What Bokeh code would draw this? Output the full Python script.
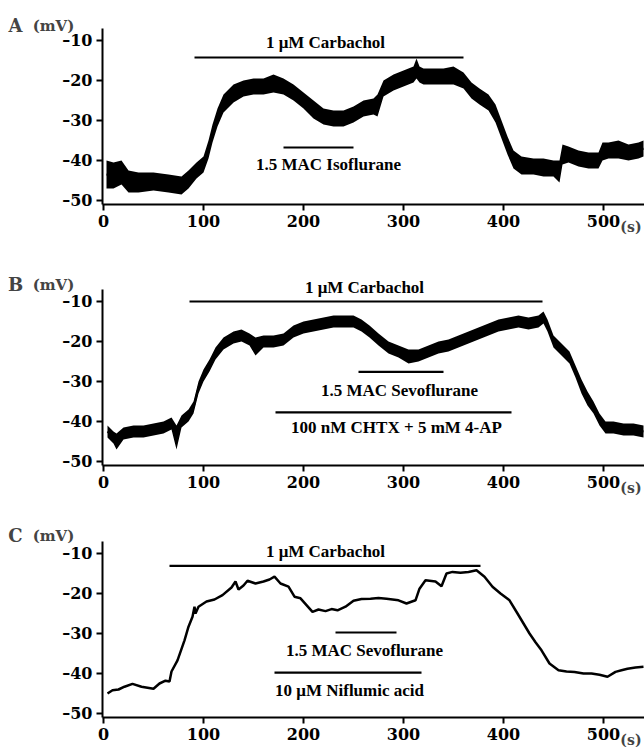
from bokeh.plotting import figure
from bokeh.layouts import column
from bokeh.models import (Range1d, FixedTicker, CustomJSTickFormatter, Label,
                          LabelSet, ColumnDataSource, LinearAxis)
from bokeh.embed import file_html
from bokeh.resources import INLINE

# ---------------- data ----------------
x_ticks = [0, 100, 200, 300, 400, 500]
y_ticks = [-50, -40, -30, -20, -10]
x_unit = "(s)"
y_unit = "(mV)"
panel_letters = ["A", "B", "C"]

# Panel A: noisy trace, envelope (time s, lower mV, upper mV)
a_t = [3, 10, 18, 25, 35, 50, 65, 78, 85, 93, 100, 105, 109, 114, 120, 130, 140, 150,
       160, 170, 180, 190, 200, 210, 220, 230, 240, 250, 260, 270, 274, 280, 290, 300,
       310, 313, 316, 320, 330, 340, 350, 360, 368, 376, 385, 392, 398, 404, 410, 418,
       430, 440, 450, 456, 459, 465, 475, 485, 495, 499, 505, 515, 525, 535, 540]
a_lo = [-47, -47, -46, -48, -48, -47.5, -48, -48.5, -47, -44.5, -43, -39.5, -35.5, -31.5,
        -28, -25.5, -24, -23.5, -23.5, -23, -23.5, -25, -27, -29.5, -31, -31.5, -31.5,
        -30.5, -29, -28.5, -29, -24, -22.5, -21.5, -20.5, -19.5, -20.5, -21, -21, -21,
        -21, -22, -24.5, -26, -27.5, -30.5, -34.5, -38.5, -42, -43.5, -43.5, -44, -44,
        -45.5, -41, -40.5, -41.5, -42, -42, -40, -39.5, -39.5, -40, -39.5, -39]
a_hi = [-40, -40.5, -40, -42.5, -43, -43, -43.5, -44, -42.5, -40.5, -39, -35, -31, -27,
        -23.5, -21, -20, -19.5, -19.5, -18.5, -19.5, -21, -23, -25, -27, -27.5, -27.5,
        -26.5, -25, -24.5, -23.5, -20, -18.5, -17.5, -16.5, -14.5, -16.5, -17, -17, -17,
        -16.5, -18, -20.5, -22, -23.5, -26, -30, -34, -37.5, -39, -39.5, -39.5, -40,
        -40, -36, -36.5, -37.5, -38, -38, -35.5, -35.5, -35, -36, -35.5, -35]

# Panel B
b_t = [4, 10, 13, 20, 30, 40, 50, 60, 68, 73, 78, 85, 90, 95, 100, 106, 112, 120, 130,
       138, 146, 152, 160, 170, 180, 190, 200, 210, 220, 230, 240, 250, 258, 266, 275,
       285, 295, 305, 315, 325, 335, 345, 355, 365, 375, 385, 395, 405, 415, 425, 435,
       440, 444, 450, 458, 466, 472, 478, 484, 490, 496, 502, 510, 520, 530, 540]
b_lo = [-44, -45.5, -47, -44.5, -44, -44, -43.5, -43, -42, -47, -41.5, -40, -38, -33,
        -30, -27.5, -24.5, -22, -20.5, -20, -21, -23.5, -21.5, -21.5, -21, -19, -18,
        -17.5, -17, -16.5, -16.5, -16.5, -17.5, -19, -21, -23, -24, -25.5, -25, -24,
        -23, -22.5, -21.5, -20.5, -19.5, -18.5, -17.5, -17, -16.5, -17, -16.5, -15.5,
        -17.5, -21.5, -23.5, -25.5, -29, -33, -36, -38, -41, -43, -43, -43.5, -43.5, -44]
b_hi = [-41, -42.5, -43, -41.5, -41, -41, -40.5, -40, -39, -41, -38.5, -37, -35, -30,
        -27, -24.5, -21.5, -19, -17.5, -17, -18, -19, -18.5, -18.5, -18, -16, -15,
        -14.5, -14, -13.5, -13.5, -13.5, -14.5, -16, -18, -20, -21, -22, -22, -21,
        -20, -19.5, -18.5, -17.5, -16.5, -15.5, -14.5, -14, -13.5, -14, -13.5, -12.5,
        -14.5, -18.5, -20.5, -22.5, -26, -29.5, -32.5, -35, -38, -40, -40, -40.5, -40.5, -41]

# Panel C (quiet trace)
c_t = [4, 9, 15, 21, 29, 38, 50, 56, 62, 66, 68, 74, 81, 85, 89, 91, 92, 95, 103, 111,
       119, 128, 132, 135, 140, 144, 152, 160, 166, 171, 177, 185, 191, 197, 203, 209,
       215, 222, 228, 234, 242, 250, 258, 267, 275, 283, 295, 303, 312, 316, 322, 332,
       338, 343, 349, 357, 365, 373, 381, 389, 397, 406, 414, 420, 426, 432, 438, 446,
       455, 463, 471, 480, 488, 496, 504, 512, 518, 524, 532, 540]
c_v = [-45, -44.2, -44, -43.3, -42.6, -43.3, -43.8, -42.5, -41.8, -42, -39.5, -36.7,
       -31.7, -28.3, -25.8, -23.3, -25, -23.3, -22, -21.5, -20.4, -18.5, -17, -19, -18,
       -16.8, -17.5, -17, -16.5, -15.8, -17.5, -18.3, -20.8, -21.2, -22.9, -24.6, -24,
       -24.4, -23.9, -24.2, -23.3, -21.8, -21.4, -21.3, -21.1, -21.3, -21.7, -22.5,
       -21.7, -18.8, -16.7, -17, -18.2, -15, -14.6, -14.8, -14.6, -14.2, -15.8, -18.3,
       -20, -21.7, -25, -27.5, -30, -32.2, -34.2, -37.5, -39.2, -39.5, -39.6, -40, -40,
       -40.3, -40.8, -39.6, -39.2, -38.8, -38.5, -38.3]

# Drug application bars (start s, end s, level mV) and their labels
a_bar_x0 = [91, 180]
a_bar_x1 = [360, 250]
a_bar_y = [-14.25, -36.75]
a_lab_text = ["1 \u03bcM Carbachol", "1.5 MAC Isoflurane"]
a_lab_x = [222, 225]
a_lab_y = [-10.5, -41.0]

b_bar_x0 = [86, 255, 172]
b_bar_x1 = [439, 340, 408]
b_bar_y = [-10.0, -27.6, -37.7]
b_lab_text = ["1 \u03bcM Carbachol", "1.5 MAC Sevoflurane", "100 nM CHTX + 5 mM 4-AP"]
b_lab_x = [261, 296, 293]
b_lab_y = [-6.5, -32.2, -41.6]

c_bar_x0 = [66, 232, 171]
c_bar_x1 = [377, 293, 318]
c_bar_y = [-13.1, -29.75, -39.8]
c_lab_text = ["1 \u03bcM Carbachol", "1.5 MAC Sevoflurane", "10 \u03bcM Niflumic acid"]
c_lab_x = [222, 261, 246]
c_lab_y = [-9.6, -34.2, -44.2]

# ---------------- styling ----------------
FONT = "DejaVu Serif"
FS = "17px"
X_VIEW = (-103, 541)          # full figure width, 1 px per second
Y_AXIS_SPAN = (-51, -7)


def make_panel(letter, height, y_view, letter_y, bars, labels, draw_trace):
    p = figure(width=644, height=height,
               x_range=Range1d(*X_VIEW), y_range=Range1d(*y_view),
               output_backend="svg", toolbar_location=None,
               x_axis_location=None, y_axis_location=None, min_border=0)
    p.outline_line_color = None
    p.xgrid.visible = False
    p.ygrid.visible = False

    draw_trace(p)

    x0, x1, yb = bars
    p.segment(x0=x0, x1=x1, y0=yb, y1=yb, line_color="black", line_width=2.2)

    txt, lx, ly = labels
    src = ColumnDataSource(dict(x=lx, y=ly, text=txt))
    p.add_layout(LabelSet(x="x", y="y", text="text", source=src,
                          text_align="center", text_baseline="middle",
                          text_font=FONT, text_font_style="bold",
                          text_font_size=FS, text_color="black"))

    xax = LinearAxis(fixed_location=Y_AXIS_SPAN[0], bounds=(-1, X_VIEW[1]),
                     ticker=FixedTicker(ticks=x_ticks))
    yax = LinearAxis(fixed_location=-1, bounds=Y_AXIS_SPAN,
                     ticker=FixedTicker(ticks=y_ticks),
                     formatter=CustomJSTickFormatter(
                         code='return tick < 0 ? "\\u2013" + Math.abs(tick) : String(tick);'))
    for ax in (xax, yax):
        ax.axis_line_width = 2
        ax.axis_line_color = "black"
        ax.major_tick_line_width = 2
        ax.major_tick_out = 6
        ax.major_tick_in = 0
        ax.minor_tick_line_color = None
        ax.major_label_text_font = FONT
        ax.major_label_text_font_style = "bold"
        ax.major_label_text_font_size = "16px"
        ax.major_label_text_color = "black"
        ax.major_label_standoff = 4
    p.add_layout(xax, "below")
    p.add_layout(yax, "left")

    p.add_layout(Label(x=-88, y=letter_y, text=letter, text_font=FONT,
                       text_font_style="bold", text_font_size="18px",
                       text_align="center", text_baseline="middle"))
    p.add_layout(Label(x=-50, y=letter_y, text=y_unit, text_font=FONT,
                       text_font_style="bold", text_font_size="15px",
                       text_align="center", text_baseline="middle"))
    p.add_layout(Label(x=538, y=-56.5, text=x_unit, text_font=FONT,
                       text_font_style="bold", text_font_size="14px",
                       text_align="right", text_baseline="middle"))
    return p


def trace_a(p):
    p.varea(x=a_t, y1=a_lo, y2=a_hi, fill_color="black")
    p.line(x=a_t, y=[(l + h) / 2 for l, h in zip(a_lo, a_hi)], line_color="black", line_width=2)


def trace_b(p):
    p.varea(x=b_t, y1=b_lo, y2=b_hi, fill_color="black")
    p.line(x=b_t, y=[(l + h) / 2 for l, h in zip(b_lo, b_hi)], line_color="black", line_width=2)


def trace_c(p):
    p.line(x=c_t, y=c_v, line_color="black", line_width=2.5)


pA = make_panel(panel_letters[0], 244, (-61, 0), -6.25,
                (a_bar_x0, a_bar_x1, a_bar_y), (a_lab_text, a_lab_x, a_lab_y), trace_a)
pB = make_panel(panel_letters[1], 257, (-60, 4.25), -5.75,
                (b_bar_x0, b_bar_x1, b_bar_y), (b_lab_text, b_lab_x, b_lab_y), trace_b)
pC = make_panel(panel_letters[2], 246, (-58.5, 3), -5.5,
                (c_bar_x0, c_bar_x1, c_bar_y), (c_lab_text, c_lab_x, c_lab_y), trace_c)

layout = column(pA, pB, pC, spacing=0)
open("out.html", "w").write(file_html(layout, INLINE))
